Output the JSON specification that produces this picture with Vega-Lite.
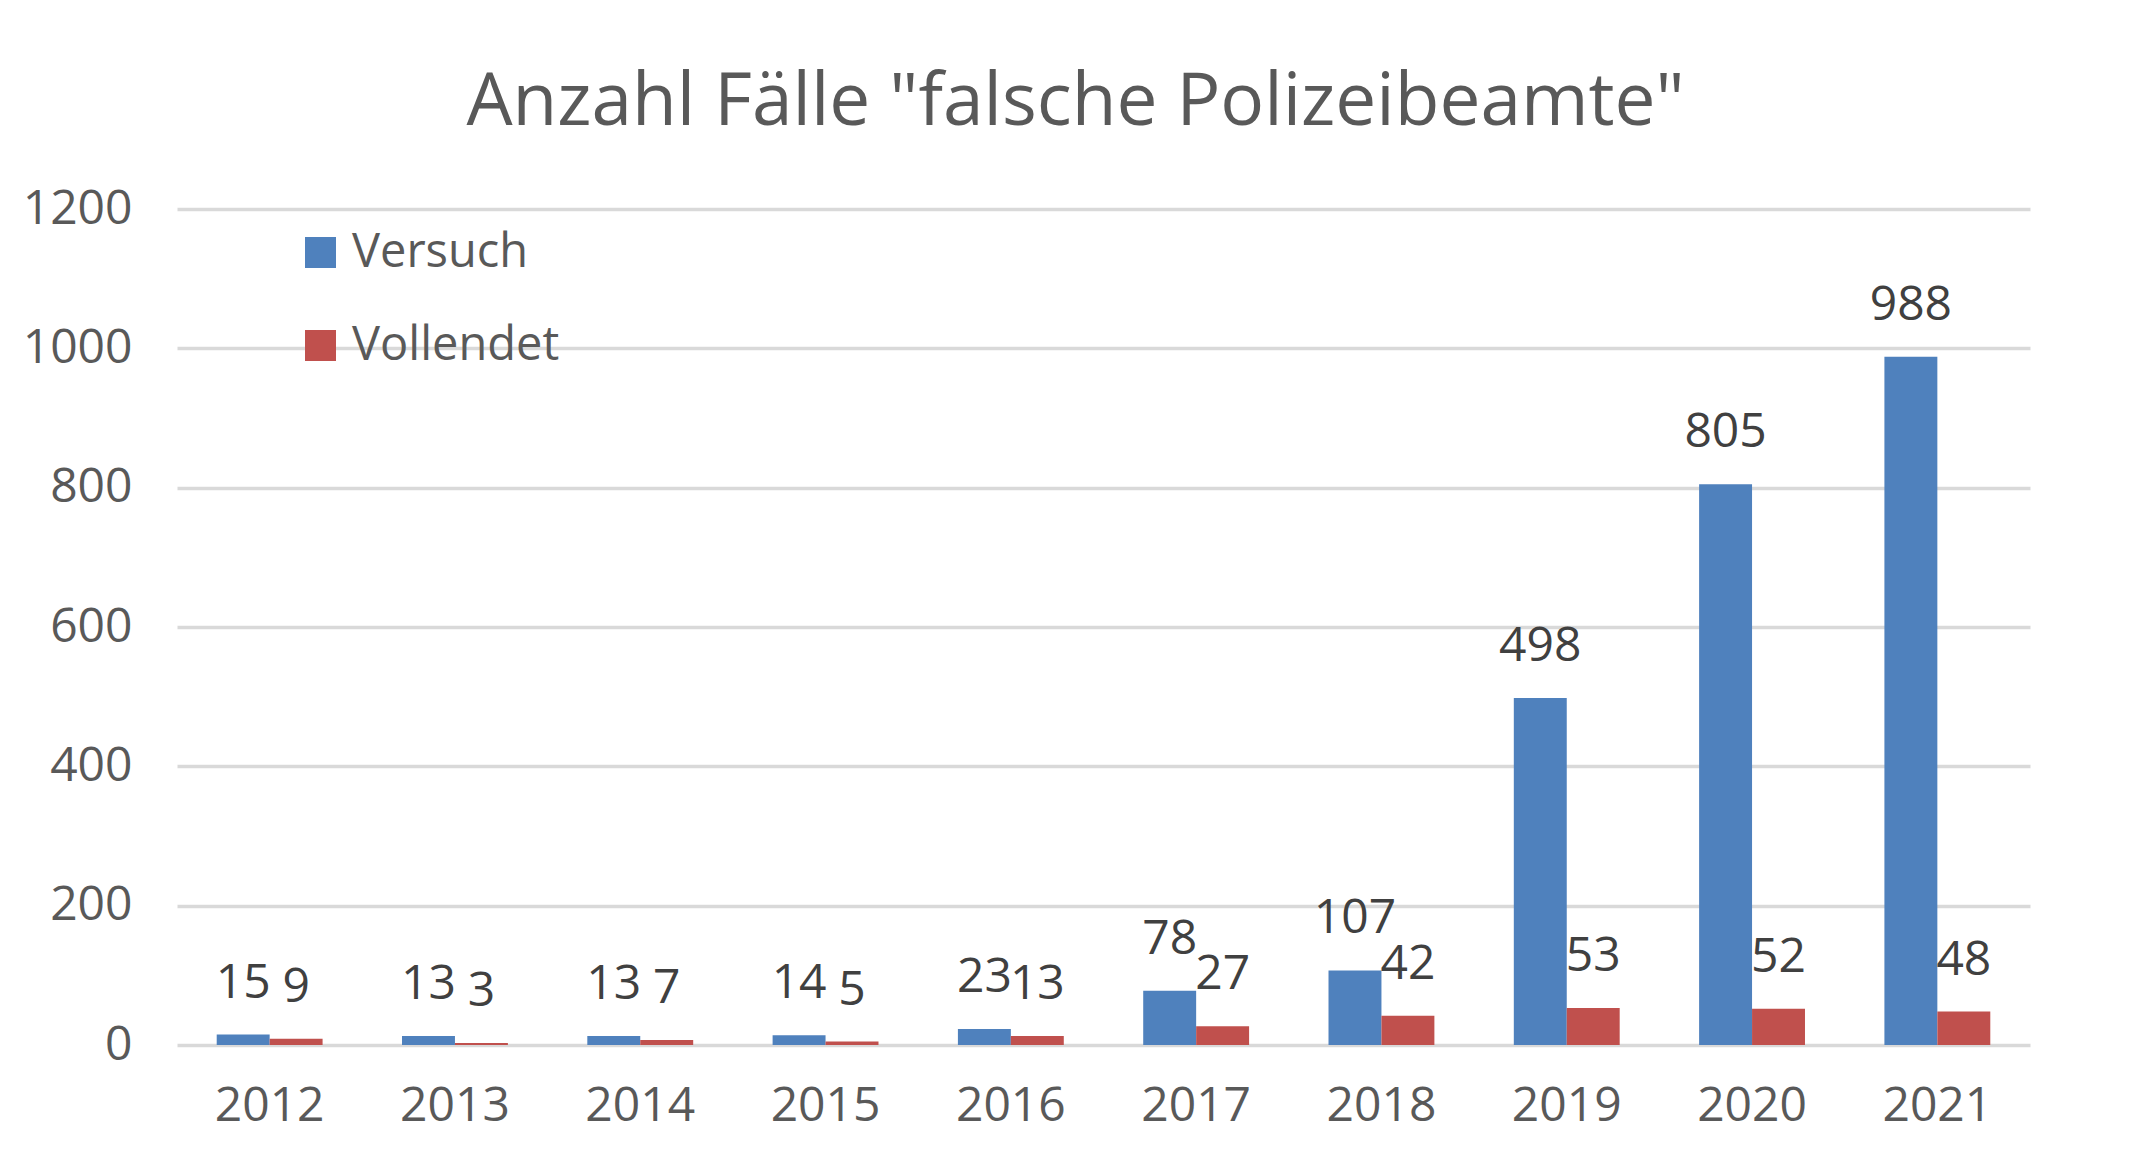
{
  "$schema": "https://vega.github.io/schema/vega-lite/v6.json",
  "width": 1853,
  "height": 836,
  "autosize": {"type": "none"},
  "padding": {"left": 177, "top": 209, "right": 111, "bottom": 119},
  "background": "white",
  "config": {"view": {"stroke": null}, "font": "Open Sans"},
  "title": {
    "text": "Anzahl Fälle \"falsche Polizeibeamte\"",
    "fontSize": 73,
    "font": "Open Sans",
    "fontWeight": "normal",
    "color": "#595959",
    "frame": "group",
    "anchor": "middle",
    "offset": 45,
    "dx": -28
  },
  "data": {
    "values": [
      {"Jahr": "2012", "Art": "Versuch", "Anzahl": 15},
      {"Jahr": "2012", "Art": "Vollendet", "Anzahl": 9},
      {"Jahr": "2013", "Art": "Versuch", "Anzahl": 13},
      {"Jahr": "2013", "Art": "Vollendet", "Anzahl": 3},
      {"Jahr": "2014", "Art": "Versuch", "Anzahl": 13},
      {"Jahr": "2014", "Art": "Vollendet", "Anzahl": 7},
      {"Jahr": "2015", "Art": "Versuch", "Anzahl": 14},
      {"Jahr": "2015", "Art": "Vollendet", "Anzahl": 5},
      {"Jahr": "2016", "Art": "Versuch", "Anzahl": 23},
      {"Jahr": "2016", "Art": "Vollendet", "Anzahl": 13},
      {"Jahr": "2017", "Art": "Versuch", "Anzahl": 78},
      {"Jahr": "2017", "Art": "Vollendet", "Anzahl": 27},
      {"Jahr": "2018", "Art": "Versuch", "Anzahl": 107},
      {"Jahr": "2018", "Art": "Vollendet", "Anzahl": 42},
      {"Jahr": "2019", "Art": "Versuch", "Anzahl": 498},
      {"Jahr": "2019", "Art": "Vollendet", "Anzahl": 53},
      {"Jahr": "2020", "Art": "Versuch", "Anzahl": 805},
      {"Jahr": "2020", "Art": "Vollendet", "Anzahl": 52},
      {"Jahr": "2021", "Art": "Versuch", "Anzahl": 988},
      {"Jahr": "2021", "Art": "Vollendet", "Anzahl": 48}
    ]
  },
  "encoding": {
    "x": {
      "field": "Jahr",
      "type": "nominal",
      "scale": {"paddingInner": 0.4286, "paddingOuter": 0.2143},
      "axis": {
        "title": null,
        "labelAngle": 0,
        "domain": false,
        "ticks": false,
        "labelFontSize": 48,
        "labelColor": "#595959",
        "labelPadding": 37,
        "grid": false
      }
    },
    "xOffset": {"field": "Art", "sort": ["Versuch", "Vollendet"]},
    "y": {
      "field": "Anzahl",
      "type": "quantitative",
      "scale": {"domain": [0, 1200]},
      "axis": {
        "title": null,
        "values": [0, 200, 400, 600, 800, 1000, 1200],
        "format": "d",
        "domain": false,
        "ticks": false,
        "labelFontSize": 48,
        "labelColor": "#595959",
        "labelPadding": 45,
        "gridColor": "#D9D9D9",
        "gridWidth": 3.5
      }
    }
  },
  "layer": [
    {
      "mark": {"type": "bar"},
      "encoding": {
        "color": {
          "field": "Art",
          "type": "nominal",
          "scale": {"domain": ["Versuch", "Vollendet"], "range": ["#4F81BD", "#C0504D"]},
          "legend": {
            "title": null,
            "orient": "none",
            "legendX": 120,
            "legendY": 20,
            "symbolType": "square",
            "symbolSize": 961,
            "symbolStrokeWidth": 0,
            "labelFontSize": 47,
            "labelColor": "#595959",
            "labelOffset": 8,
            "labelLimit": 500,
            "rowPadding": 45
          }
        }
      }
    },
    {
      "mark": {"type": "text", "baseline": "alphabetic", "dy": -37, "fontSize": 48, "color": "#404040"},
      "encoding": {"text": {"field": "Anzahl", "type": "quantitative"}}
    }
  ]
}
